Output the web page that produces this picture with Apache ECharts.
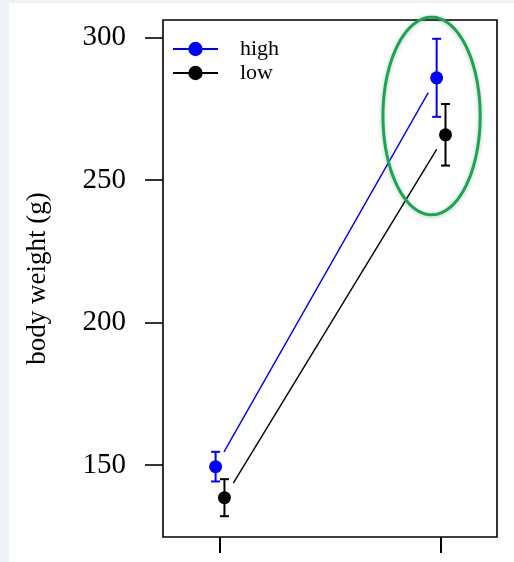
<!DOCTYPE html>
<html>
<head>
<meta charset="utf-8">
<script src="https://cdn.jsdelivr.net/npm/echarts@6/dist/echarts.min.js"></script>
<style>
html, body { margin: 0; padding: 0; background: #eef1f5; }
#chart { position: absolute; left: 9px; top: 3px; width: 505px; height: 559px; background: #fff; }
</style>
</head>
<body>
<div id="chart"></div>
<script>
const groups = [1, 2]
const highMean = [149.4, 285.9]
const highErr = [5.2, 13.7]
const lowMean = [138.5, 265.9]
const lowErr = [6.5, 10.8]
const yTicks = [150, 200, 250, 300]
const xTicks = [1, 2]
// circled region: centre x, centre y, half width, half height (data units)
const ring = [1.957, 272.5, 0.22, 34.7]

const dodge = 0.02
const font = 'Liberation Serif'

function points(mean, shift) {
  return groups.map((g, i) => [g + shift, mean[i]])
}
function bars(mean, err, shift) {
  return groups.map((g, i) => [g + shift, mean[i] - err[i], mean[i] + err[i]])
}
function segments(mean, shift) {
  let arr = []
  for (let i = 0; i < groups.length - 1; i++) {
    arr.push([groups[i] + shift, mean[i], groups[i + 1] + shift, mean[i + 1]])
  }
  return arr
}

function errorBar(color) {
  return function (params, api) {
    const top = api.coord([api.value(0), api.value(2)])
    const bot = api.coord([api.value(0), api.value(1)])
    const w = 4.5
    const style = { stroke: color, lineWidth: 2 }
    return {
      type: 'group',
      children: [
        { type: 'line', shape: { x1: top[0], y1: top[1], x2: bot[0], y2: bot[1] }, style },
        { type: 'line', shape: { x1: top[0] - w, y1: top[1], x2: top[0] + w, y2: top[1] }, style },
        { type: 'line', shape: { x1: bot[0] - w, y1: bot[1], x2: bot[0] + w, y2: bot[1] }, style }
      ]
    }
  }
}

// line between the points, stopped short of each point like R type = "b"
function gapLine(color) {
  return function (params, api) {
    const a = api.coord([api.value(0), api.value(1)])
    const b = api.coord([api.value(2), api.value(3)])
    const dx = b[0] - a[0]
    const dy = b[1] - a[1]
    const len = Math.sqrt(dx * dx + dy * dy)
    const gap = 17
    const ux = dx / len
    const uy = dy / len
    return {
      type: 'line',
      shape: { x1: a[0] + ux * gap, y1: a[1] + uy * gap, x2: b[0] - ux * gap, y2: b[1] - uy * gap },
      style: { stroke: color, lineWidth: 1.4 }
    }
  }
}

function ellipse(params, api) {
  const c = api.coord([api.value(0), api.value(1)])
  const s = api.size([api.value(2), api.value(3)])
  let pts = []
  for (let k = 0; k < 96; k++) {
    const t = k / 96 * Math.PI * 2
    pts.push([c[0] + s[0] * Math.cos(t), c[1] + s[1] * Math.sin(t)])
  }
  return {
    type: 'polygon',
    shape: { points: pts },
    style: { fill: 'none', stroke: '#15a84e', lineWidth: 3, shadowBlur: 4, shadowColor: 'rgba(0,0,0,0.25)', shadowOffsetY: 1 }
  }
}

const chart = echarts.init(document.getElementById('chart'))
chart.setOption({
  animation: false,
  grid: {
    left: 154, top: 17, right: 17, bottom: 25,
    show: true, borderColor: '#000', borderWidth: 1.6, backgroundColor: 'transparent'
  },
  legend: {
    orient: 'vertical',
    left: 163,
    top: 35,
    padding: 0,
    itemWidth: 45,
    itemHeight: 18,
    itemGap: 2,
    lineStyle: { width: 2, opacity: 1 },
    textStyle: { fontFamily: font, fontSize: 22, color: '#000', padding: [0, 0, 0, 17] },
    data: ['high', 'low']
  },
  xAxis: {
    type: 'value',
    min: 0.742,
    max: 2.253,
    axisLine: { show: false },
    axisTick: { show: true, customValues: xTicks, length: 16, lineStyle: { color: '#000', width: 2 } },
    axisLabel: { show: false },
    splitLine: { show: false }
  },
  yAxis: {
    type: 'value',
    min: 124.7,
    max: 306.2,
    name: 'body weight (g)',
    nameLocation: 'middle',
    nameRotate: 90,
    nameGap: 112,
    nameTextStyle: { fontFamily: font, fontSize: 27, color: '#000' },
    axisLine: { show: false },
    axisTick: { show: true, customValues: yTicks, length: 18, lineStyle: { color: '#000', width: 1.6 } },
    axisLabel: { customValues: yTicks, margin: 37, fontFamily: font, fontSize: 29, color: '#000' },
    splitLine: { show: false }
  },
  series: [
    { type: 'custom', renderItem: gapLine('#0000ff'), data: segments(highMean, -dodge), silent: true, z: 2 },
    { type: 'custom', renderItem: gapLine('#000'), data: segments(lowMean, dodge), silent: true, z: 2 },
    { type: 'custom', renderItem: errorBar('#0000ff'), data: bars(highMean, highErr, -dodge), silent: true, z: 3 },
    { type: 'custom', renderItem: errorBar('#000'), data: bars(lowMean, lowErr, dodge), silent: true, z: 3 },
    {
      name: 'high', type: 'line', data: points(highMean, -dodge),
      symbol: 'circle', symbolSize: 13, itemStyle: { color: '#0000ff' },
      lineStyle: { color: '#0000ff', opacity: 0, width: 0 }, z: 4
    },
    {
      name: 'low', type: 'line', data: points(lowMean, dodge),
      symbol: 'circle', symbolSize: 13, itemStyle: { color: '#000' },
      lineStyle: { color: '#000', opacity: 0, width: 0 }, z: 4
    },
    { type: 'custom', renderItem: ellipse, data: [ring], silent: true, z: 5 }
  ]
})
</script>
</body>
</html>
